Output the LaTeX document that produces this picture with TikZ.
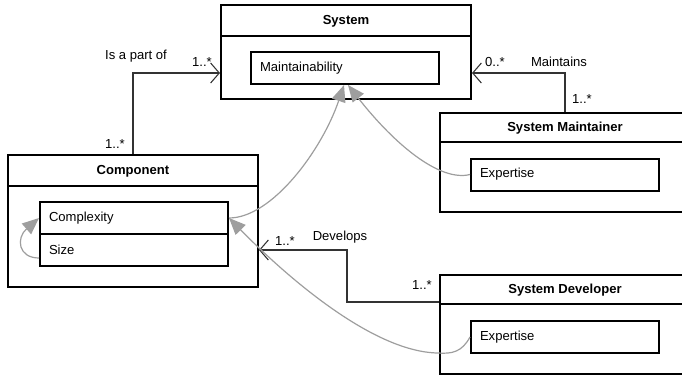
\documentclass[tikz,border=0pt]{standalone}
\usepackage{fontspec}
\setmainfont{Liberation Sans}
\usetikzlibrary{arrows.meta,calc}
\begin{document}
\begin{tikzpicture}[x=0.75pt,y=-0.75pt,
  font=\fontsize{9.8}{11}\selectfont,
  classbox/.style={draw, line width=1.5pt, inner sep=0pt},
  titletext/.style={font=\fontsize{9.8}{11}\selectfont\bfseries, inner sep=0pt},
  attrbox/.style={draw, line width=1.5pt, text width=127.5pt, inner xsep=6.75pt, inner ysep=0pt,
                  align=left, minimum height=24pt},
  divider/.style={line width=1.5pt},
  assoc/.style={draw=black!80, line width=0.8pt, -{Straight Barb[length=6.5pt,width=15pt]}},
  dep/.style={draw=black!38, line width=0.9pt, -{Triangle[length=12.5pt,width=10.5pt,fill=black!38]}},
  lbl/.style={inner sep=0pt}
]
\useasboundingbox (0,0) rectangle (682,376);

% System
\node[classbox, minimum width=187.5pt, minimum height=70.5pt] (sys) at (346,52) {};
\draw[divider] (sys.north west) ++(0,32) -- ++(250,0);
\node[titletext] (systitle) at (346,21) {System};
\node[attrbox] (maint) at (345,68) {Maintainability};

% Component
\node[classbox, minimum width=187.5pt, minimum height=99pt] (comp) at (133,221) {};
\draw[divider] (comp.north west) ++(0,32) -- ++(250,0);
\node[titletext] (comptitle) at (133,171) {Component};
\node[attrbox] (cplx) at (134,218) {Complexity};
\node[attrbox] (size) at (134,250) {Size};

% System Maintainer
\node[classbox, minimum width=187.5pt, minimum height=74.25pt] (mnt) at (565,162.5) {};
\draw[divider] (mnt.north west) ++(0,30) -- ++(250,0);
\node[titletext] (mnttitle) at (565,128) {System Maintainer};
\node[attrbox] (expm) at (565,174.5) {Expertise};

% System Developer
\node[classbox, minimum width=187.5pt, minimum height=74.25pt] (dev) at (565,324.5) {};
\draw[divider] (dev.north west) ++(0,30) -- ++(250,0);
\node[titletext] (devtitle) at (565,290) {System Developer};
\node[attrbox] (expd) at (565,337) {Expertise};

% Associations
\draw[assoc] (comp.north) |- ([yshift=-15.75pt]sys.west);
\draw[assoc] (mnt.north) |- ([yshift=-15.75pt]sys.east);
\coordinate (devbend) at (347,250);
\draw[assoc] ([yshift=-21pt]dev.north west) -| (devbend) -- ([yshift=-21.75pt]comp.east);

% Labels
\node[lbl] (l1) at (136,56) {Is a part of};
\node[lbl] (l2) at (202,62) {1..*};
\node[lbl] (l3) at (115,144) {1..*};
\node[lbl] (l4) at (495,62) {0..*};
\node[lbl] (l5) at (559,62) {Maintains};
\node[lbl] (l6) at (582,99) {1..*};
\node[lbl] (l7) at (285,241) {1..*};
\node[lbl] (l8) at (340,237) {Develops};
\node[lbl] (l9) at (422,285) {1..*};

% Dependencies
\draw[dep] (cplx.east) .. controls (272,218) and (322,150) .. ([xshift=-0.75pt]maint.south);
\draw[dep] (expm.west) .. controls (440,182) and (395,145) .. ([xshift=2.25pt]maint.south);
\draw[dep] (expd.west) .. controls (462,352) and (452,354) .. (438,353)
   .. controls (370,352) and (280,270) .. (cplx.east);
\draw[dep] ([yshift=-6pt]size.west) .. controls (18,258) and (16,238) .. (cplx.west);
\end{tikzpicture}
\end{document}
